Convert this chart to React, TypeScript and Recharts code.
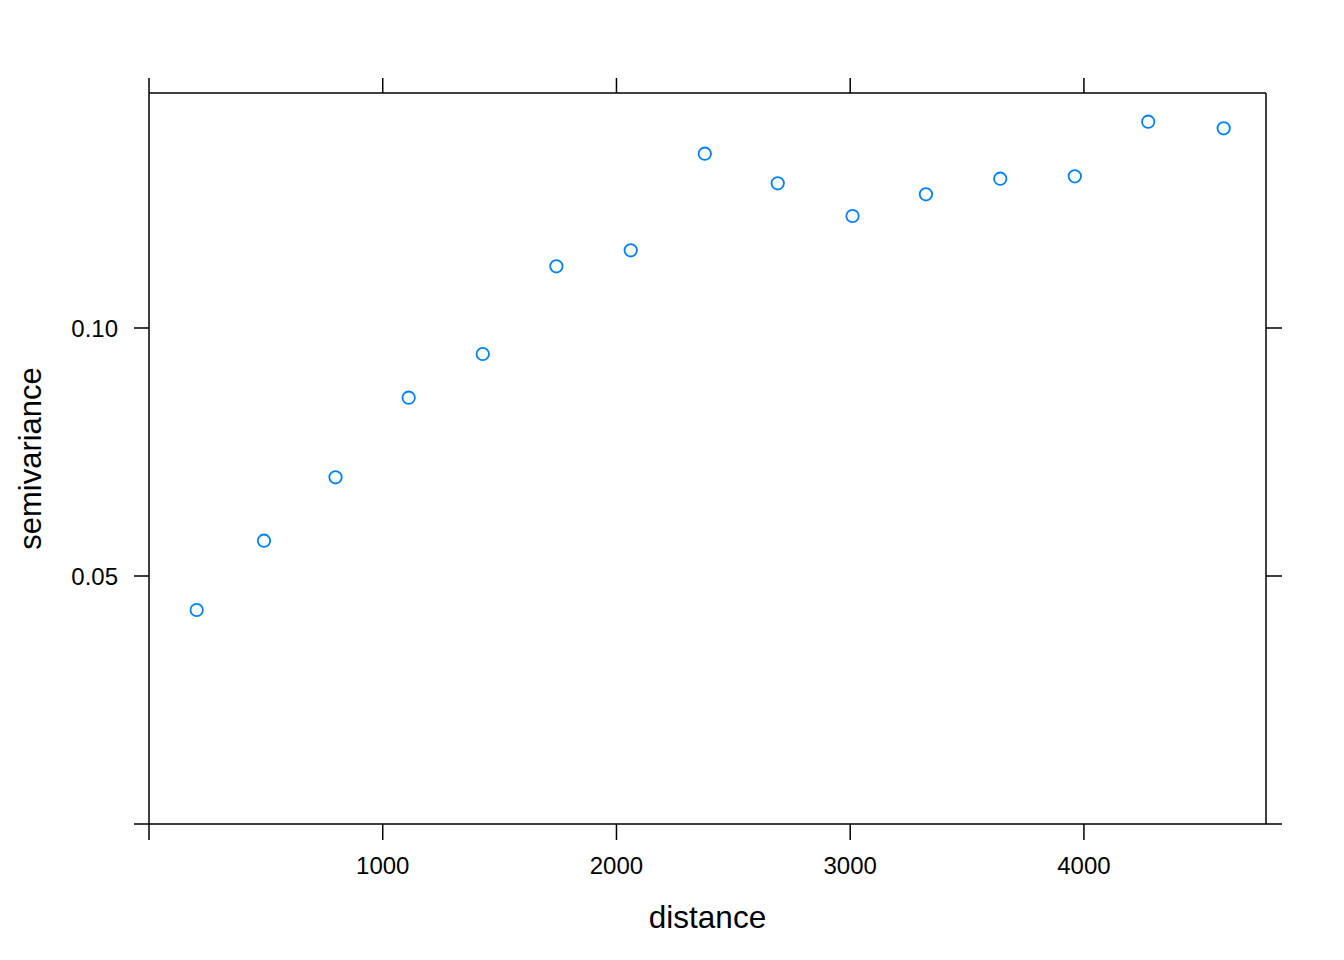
import React from 'react';
import { ScatterChart, Scatter, XAxis, YAxis, Label } from 'recharts';

const distance = [204, 492, 798, 1111, 1428, 1743, 2061, 2378, 2690, 3010, 3324, 3642, 3961, 4275, 4598];
const gamma = [0.04315, 0.05712, 0.0699, 0.08595, 0.09476, 0.11244, 0.11567, 0.13514, 0.12917, 0.12258, 0.12696, 0.1301, 0.13058, 0.14159, 0.14026];
const xTicks = [0, 1000, 2000, 3000, 4000];
const yTicks = [0, 0.05, 0.1];
const xDomain = [0, 4779];
const yDomain = [0, 0.14738];
const xTitle = 'distance';
const yTitle = 'semivariance';

const data = distance.map((d, i) => ({ dist: d, gamma: gamma[i] }));

const FONT = '"Liberation Sans", Arial, Helvetica, sans-serif';
const LINE = { stroke: '#000', strokeWidth: 1.5 };
const tickStyle = { fill: '#000', fontSize: 24, fontFamily: FONT };

const Circle = (props: any) => {
  const { cx, cy } = props;
  if (cx == null || cy == null) return <g />;
  return <circle cx={cx} cy={cy} r={6.2} fill="none" stroke="#0080ff" strokeWidth={1.8} />;
};

const Empty = () => <g />;

const XTitle = (props: any) => {
  const vb = props.viewBox || { x: 149, y: 824, width: 1117, height: 112 };
  return (
    <text x={vb.x + vb.width / 2} y={vb.y + 104} textAnchor="middle" fill="#000" fontSize={31.5} fontFamily={FONT}>
      {xTitle}
    </text>
  );
};

const YTitle = (props: any) => {
  const vb = props.viewBox || { x: 0, y: 93, width: 149, height: 731 };
  return (
    <text transform={`translate(${vb.x + 41}, ${vb.y + vb.height / 2}) rotate(-90)`} textAnchor="middle" fill="#000" fontSize={31} fontFamily={FONT}>
      {yTitle}
    </text>
  );
};

export default function App() {
  return (
    <div style={{ position: 'absolute', left: 0, top: 0, width: 1344, height: 960, background: '#fff' }}>
      <ScatterChart width={1344} height={960} margin={{ top: 73, right: 62, bottom: 24, left: 0 }}>
        <XAxis
          xAxisId="b"
          dataKey="dist"
          type="number"
          domain={xDomain}
          allowDataOverflow
          ticks={xTicks}
          interval={0}
          tickFormatter={(v: number) => (v === 0 ? '' : String(v))}
          orientation="bottom"
          height={112}
          tickSize={16}
          tickMargin={17}
          axisLine={LINE}
          tickLine={LINE}
          tick={tickStyle}
        >
          <Label content={<XTitle />} />
        </XAxis>
        <XAxis
          xAxisId="t"
          dataKey="dist"
          type="number"
          domain={xDomain}
          allowDataOverflow
          ticks={xTicks}
          interval={0}
          tickFormatter={() => ''}
          orientation="top"
          height={20}
          tickSize={15}
          axisLine={LINE}
          tickLine={LINE}
          tick={tickStyle}
        />
        <YAxis
          yAxisId="l"
          dataKey="gamma"
          type="number"
          domain={yDomain}
          allowDataOverflow
          ticks={yTicks}
          interval={0}
          tickFormatter={(v: number) => (v === 0 ? '' : v.toFixed(2))}
          orientation="left"
          width={149}
          tickSize={15}
          tickMargin={16}
          axisLine={LINE}
          tickLine={LINE}
          tick={tickStyle}
        >
          <Label content={<YTitle />} />
        </YAxis>
        <YAxis
          yAxisId="r"
          dataKey="gamma"
          type="number"
          domain={yDomain}
          allowDataOverflow
          ticks={yTicks}
          interval={0}
          tickFormatter={() => ''}
          orientation="right"
          width={16}
          tickSize={16}
          axisLine={LINE}
          tickLine={LINE}
          tick={tickStyle}
        />
        <Scatter data={data} xAxisId="t" yAxisId="r" shape={<Empty />} isAnimationActive={false} />
        <Scatter data={data} xAxisId="b" yAxisId="l" shape={<Circle />} isAnimationActive={false} />
      </ScatterChart>
    </div>
  );
}
